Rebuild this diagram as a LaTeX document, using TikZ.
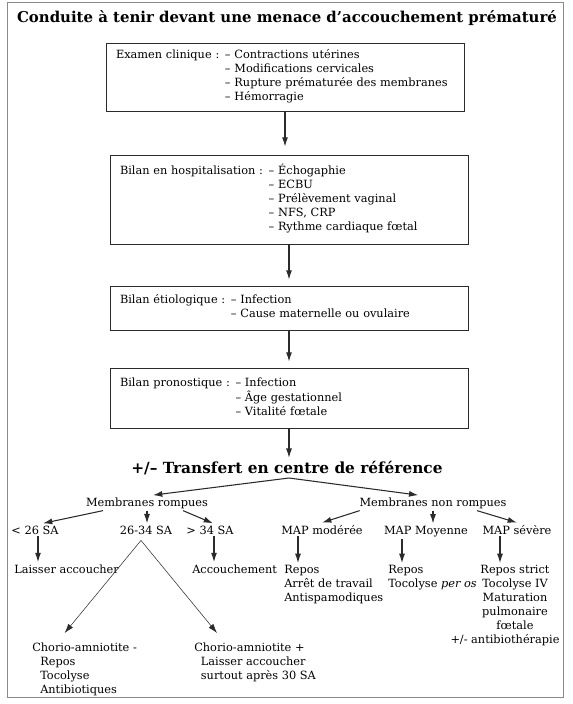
\documentclass[tikz,border=0pt]{standalone}
\usepackage{fontspec}
\setmainfont{DejaVu Serif}
\usetikzlibrary{arrows.meta}
\tikzset{>={Latex[width=4.5pt,length=7pt]}}
\usepackage{xcolor}
\definecolor{trait}{HTML}{2B2B2B}
\definecolor{cadre}{HTML}{8A8A8A}
\tikzset{
	boite/.style={draw=trait, line width=0.6pt, minimum width=268.5pt, text width=253.5pt, inner xsep=7.5pt, inner ysep=0pt, align=left, font=\fontsize{8.5}{10.5}\selectfont},
	texte/.style={inner sep=1.5pt, font=\fontsize{8.5}{10.5}\selectfont},
	fleche/.style={->, line width=0.8pt, draw=trait},
	fine/.style={->, line width=0.4pt, draw=trait},
}

\begin{document}
\begin{tikzpicture}[x=0.75pt, y=-0.75pt]
		\useasboundingbox (0,0) rectangle (572,704);
		%cadre exterieur
		\draw[cadre, line width=0.7pt] (7,2) rectangle (563,697);
		%titre
		\node[font=\bfseries\fontsize{11.2}{13}\selectfont, anchor=base, inner sep=0pt] (titre) at (287,22) {Conduite à tenir devant une menace d’accouchement prématuré};
		%boites du haut
		\node[boite, minimum height=51pt] (examen) at (285,77) {\begin{tabular}{@{}l@{ }l@{}}Examen clinique : & – Contractions utérines\\ & – Modifications cervicales\\ & – Rupture prématurée des membranes\\ & – Hémorragie\end{tabular}};
		\node[boite, minimum height=66.75pt] (hospi) at (289,199.5) {\begin{tabular}{@{}l@{ }l@{}}Bilan en hospitalisation : & – Échogaphie\\ & – ECBU\\ & – Prélèvement vaginal\\ & – NFS, CRP\\ & – Rythme cardiaque fœtal\end{tabular}};
		\node[boite, minimum height=33pt] (etio) at (289,308) {\begin{tabular}{@{}l@{ }l@{}}Bilan étiologique : & – Infection\\ & – Cause maternelle ou ovulaire\end{tabular}};
		\node[boite, minimum height=45pt] (prono) at (289,398) {\begin{tabular}{@{}l@{ }l@{}}Bilan pronostique : & – Infection\\ & – Âge gestationnel\\ & – Vitalité fœtale\end{tabular}};
		\draw[fleche, shorten >=6pt] (examen.south) -- (examen.south |- hospi.north);
		\draw[fleche, shorten >=4.5pt] (hospi.south) -- (hospi.south |- etio.north);
		\draw[fleche, shorten >=4.5pt] (etio.south) -- (etio.south |- prono.north);
		%transfert
		\node[font=\bfseries\fontsize{11.5}{13}\selectfont, anchor=base, inner sep=0pt] (transfert) at (287,473) {+/– Transfert en centre de référence};
		\draw[fleche, shorten >=2pt] (prono.south) -- (prono.south |- transfert.north);
		\coordinate (fourche) at (289,478);
		%membranes
		\node[texte, anchor=base] (rompues) at (147,506) {Membranes rompues};
		\node[texte, anchor=base] (nonrompues) at (433,506) {Membranes non rompues};
		\draw[fleche] (fourche) -- ([xshift=4.5pt]rompues.north);
		\draw[fleche] (fourche) -- ([xshift=-11pt]nonrompues.north);
		%termes et MAP
		\node[texte, anchor=base] (moins26) at (35,534) {< 26 SA};
		\node[texte, anchor=base] (entre) at (146,534) {26-34 SA};
		\node[texte, anchor=base] (plus34) at (210,534) {> 34 SA};
		\node[texte, anchor=base] (modere) at (322,534) {MAP modérée};
		\node[texte, anchor=base] (moyenne) at (426,534) {MAP Moyenne};
		\node[texte, anchor=base] (severe) at (517,534) {MAP sévère};
		\draw[fleche] ([xshift=-33pt]rompues.south) -- ([xshift=6pt]moins26.north);
		\draw[fleche] (rompues.south) -- (rompues.south |- entre.north);
		\draw[fleche] ([xshift=27pt]rompues.south) -- ([xshift=2.25pt]plus34.north);
		\draw[fleche] ([xshift=-55pt]nonrompues.south) -- (modere.north);
		\draw[fleche] (nonrompues.south) -- (nonrompues.south |- moyenne.north);
		\draw[fleche] ([xshift=33pt]nonrompues.south) -- (severe.north);
		%conduites
		\node[texte, anchor=base west] (laisser) at (12,573) {Laisser accoucher};
		\node[texte, anchor=base west] (accouch) at (190,573) {Accouchement};
		\node[texte, anchor=north west, align=left] (reposA) at (282,563) {Repos\\Arrêt de travail\\Antispamodiques};
		\node[texte, anchor=north west, align=left] (reposB) at (386,563) {Repos\\Tocolyse \textit{per os}};
		\node[texte, anchor=north, align=center] (reposC) at (515,563) {Repos strict\\Tocolyse IV\\Maturation\\pulmonaire\\fœtale\\+/- antibiothérapie\hspace*{15pt}};
		\draw[fleche] ([xshift=2.25pt]moins26.south) -- ([xshift=2.25pt]moins26.south |- laisser.north);
		\draw[fleche] ([xshift=3pt]plus34.south) -- ([xshift=3pt]plus34.south |- accouch.north);
		\draw[fleche] ([xshift=-18pt]modere.south) -- ([xshift=-18pt]modere.south |- reposA.north);
		\draw[fleche] ([xshift=-18pt]moyenne.south) -- ([xshift=-18pt]moyenne.south |- reposB.north);
		\draw[fleche] ([xshift=-12.75pt]severe.south) -- ([xshift=-12.75pt]severe.south |- reposC.north);
		%chorio-amniotite
		\node[texte, anchor=north west, align=left] (chorioM) at (30,641) {Chorio-amniotite -\\\hspace*{6pt}Repos\\\hspace*{6pt}Tocolyse\\\hspace*{6pt}Antibiotiques};
		\node[texte, anchor=north west, align=left] (chorioP) at (192,641) {Chorio-amniotite +\\\hspace*{5pt}Laisser accoucher\\\hspace*{5pt}surtout après 30 SA};
		\coordinate (sommet) at ([xshift=-3.75pt, yshift=-3pt]entre.south);
		\draw[fine] (sommet) -- ([xshift=26pt, yshift=6pt]chorioM.north west);
		\draw[fine] (sommet) -- ([xshift=18.75pt, yshift=6pt]chorioP.north west);
	\end{tikzpicture}
\end{document}
